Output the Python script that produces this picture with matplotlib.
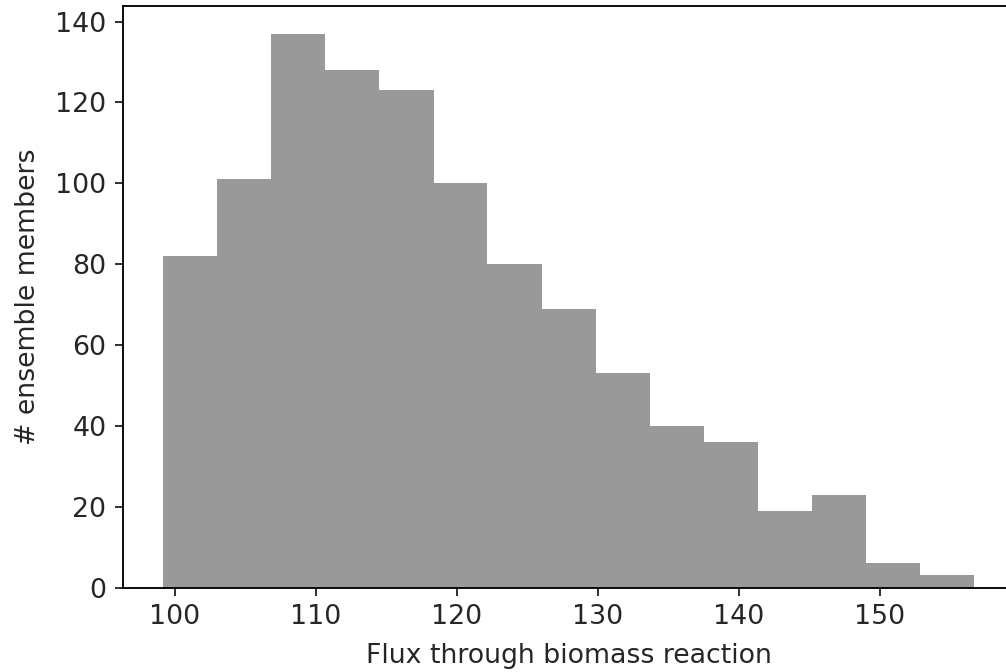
import matplotlib
matplotlib.use("Agg")
import matplotlib.pyplot as plt

# Histogram data
bin_edges = [99.17, 103.01, 106.84, 110.68, 114.51, 118.35, 122.18, 126.02,
             129.85, 133.69, 137.52, 141.36, 145.19, 149.03, 152.86, 156.70]
counts = [82, 101, 137, 128, 123, 100, 80, 69, 53, 40, 36, 19, 23, 6, 3]
x_label = "Flux through biomass reaction"
y_label = "# ensemble members"

plt.rcParams["font.size"] = 11.5
plt.rcParams["text.color"] = "#262626"
plt.rcParams["xtick.color"] = "#262626"
plt.rcParams["ytick.color"] = "#262626"
plt.rcParams["axes.labelcolor"] = "#262626"

W, H = 1006, 672
dpi = W / 6.0
fig = plt.figure(figsize=(W / dpi, H / dpi), dpi=dpi)
ax = fig.add_axes([122.7 / W, 84.5 / H, 891.8 / W, 581.5 / H])

centers = [(a + b) / 2 for a, b in zip(bin_edges[:-1], bin_edges[1:])]
ax.hist(centers, bins=bin_edges, weights=counts, color="k", alpha=0.4)

ax.set_xlabel(x_label, labelpad=5.5)
ax.set_ylabel(y_label, labelpad=6)

fig.savefig("out.png", dpi=dpi)
